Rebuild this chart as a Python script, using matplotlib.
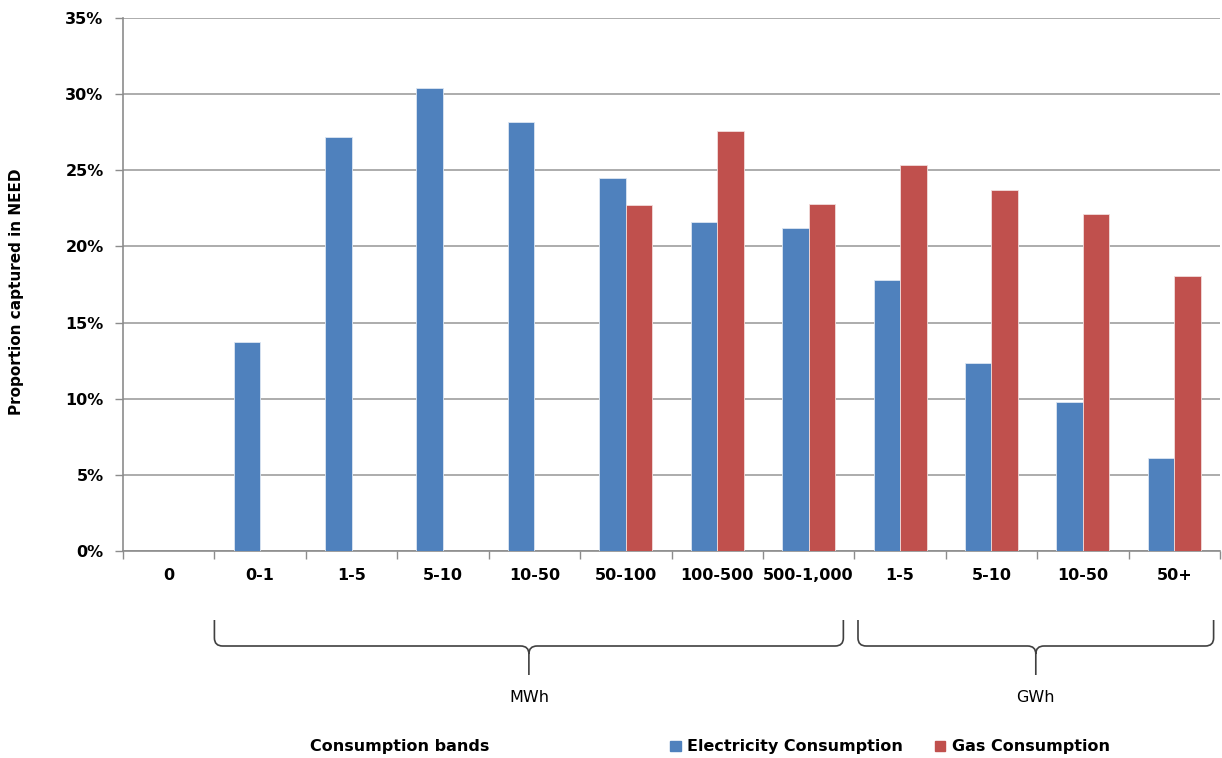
import matplotlib
matplotlib.use("Agg")
import matplotlib.pyplot as plt
import numpy as np
from matplotlib.path import Path
from matplotlib.patches import PathPatch, Patch
from matplotlib.transforms import blended_transform_factory
from matplotlib.ticker import FuncFormatter, FixedLocator

categories = ["0", "0-1", "1-5", "5-10", "10-50", "50-100", "100-500",
              "500-1,000", "1-5", "5-10", "10-50", "50+"]
electricity = [0.0, 13.7, 27.2, 30.4, 28.2, 24.5, 21.6, 21.2, 17.8, 12.35, 9.8, 6.1]
gas = [0.0, 0.0, 0.0, 0.0, 0.0, 22.7, 27.6, 22.8, 25.35, 23.7, 22.1, 18.05]
series_names = ["Electricity Consumption", "Gas Consumption"]
unit_groups = [("MWh", 0.5, 7.38), ("GWh", 7.54, 11.43)]

FONT = ["DejaVu Sans"]
plt.rcParams['font.family'] = FONT

fig = plt.figure(figsize=(12.22, 7.58), dpi=100)
ax = fig.add_axes([123/1222, 1-551/758, (1220-123)/1222, (551-18)/758])

x = np.arange(len(categories))
w = 0.29
blue = "#4F81BD"
red = "#C0504D"
ax.bar(x - w/2, electricity, w, color=blue, edgecolor="#DCE6F2", linewidth=0.6, zorder=3)
ax.bar(x + w/2, gas, w, color=red, edgecolor="#F2DCDB", linewidth=0.6, zorder=3)

ax.set_xlim(-0.5, len(categories) - 0.5)
ax.set_ylim(0, 35)
ax.set_yticks(np.arange(0, 36, 5))
ax.yaxis.set_major_formatter(FuncFormatter(lambda v, p: f"{int(v)}%"))
ax.grid(axis="y", color="#A6A6A6", linewidth=1.3, zorder=0)
ax.set_axisbelow(True)

ax.set_xticks(x)
ax.set_xticklabels(categories, fontweight="bold", fontsize=11.5)
ax.xaxis.set_minor_locator(FixedLocator(np.arange(-0.5, len(categories), 1)))
ax.tick_params(axis="x", which="major", length=0, pad=12)
ax.tick_params(axis="x", which="minor", length=6, color="#8C8C8C", width=1)
ax.tick_params(axis="y", length=6, color="#8C8C8C", width=1, labelsize=11.5, pad=8)
for lab in ax.get_yticklabels():
    lab.set_fontweight("bold")

for s in ["top", "right"]:
    ax.spines[s].set_visible(False)
for s in ["left", "bottom"]:
    ax.spines[s].set_color("#8C8C8C")
    ax.spines[s].set_linewidth(1.2)

fig.text(17/1222, 1-292/758, "Proportion captured in NEED", rotation=90,
         ha="center", va="center", fontweight="bold", fontsize=11)

# Braces
trans = blended_transform_factory(ax.transData, fig.transFigure)
top = 1 - 620/758
mid = 1 - 646/758
bot = 1 - 675/758
r = 0.09
ry = 8/758
for label, x0, x1 in unit_groups:
    tip = (x0 + x1) / 2
    verts = [(x0, top), (x0, mid + ry), (x0, mid), (x0 + r, mid),
             (tip - r, mid), (tip, mid), (tip, mid - ry), (tip, bot),
             (tip, mid - ry), (tip, mid), (tip + r, mid),
             (x1 - r, mid), (x1, mid), (x1, mid + ry), (x1, top)]
    codes = [Path.MOVETO, Path.LINETO, Path.CURVE3, Path.CURVE3,
             Path.LINETO, Path.CURVE3, Path.CURVE3, Path.LINETO,
             Path.MOVETO, Path.CURVE3, Path.CURVE3,
             Path.LINETO, Path.CURVE3, Path.CURVE3, Path.LINETO]
    patch = PathPatch(Path(verts, codes), transform=trans, fill=False,
                      edgecolor="#404040", linewidth=1.2, clip_on=False)
    fig.add_artist(patch)
    fig.text(tip, 1 - 697/758, label, transform=trans, ha="center", va="center",
             fontsize=11.5)

fig.text(400/1222, 1 - 746/758, "Consumption bands", ha="center", va="center",
         fontweight="bold", fontsize=11.5)

handles = [Patch(color=blue), Patch(color=red)]
leg = fig.legend(handles, series_names, loc="center", bbox_to_anchor=(890/1222, 1 - 747/758),
                 ncol=2, frameon=False, handlelength=0.65, handleheight=0.65,
                 handletextpad=0.4, columnspacing=2.0,
                 prop={"weight": "bold", "size": 11.5, "family": FONT})

fig.savefig("out.png", dpi=100)
